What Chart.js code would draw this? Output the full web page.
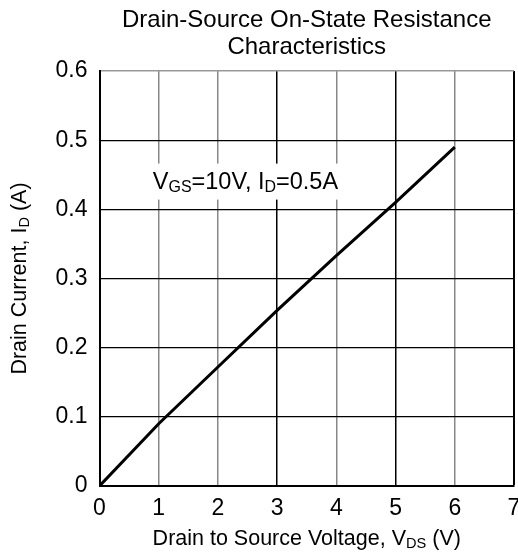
<!DOCTYPE html>
<html><head><meta charset="utf-8">
<script src="https://cdn.jsdelivr.net/npm/chart.js@4.4.1/dist/chart.umd.min.js"></script>
<style>html,body{margin:0;padding:0;background:#fff}#w{width:518px;height:555px}</style>
</head><body><div id="w"><canvas id="c"></canvas></div>
<script>
const vds = [0, 1, 2, 3, 4, 5, 6];
const id = [0, 0.09, 0.172, 0.254, 0.333, 0.41, 0.49];
const xTicks = [0, 1, 2, 3, 4, 5, 6, 7];
const yTicks = [0, 0.1, 0.2, 0.3, 0.4, 0.5, 0.6];
const titleLines = ["Drain-Source On-State Resistance", "Characteristics"];
const FONT = "'Liberation Sans', Arial, sans-serif";
const SUB = 0.68;

function measure(ctx, parts, size) {
  let t = 0;
  parts.forEach(p => { ctx.font = (p[1] ? size * SUB : size) + "px " + FONT; t += ctx.measureText(p[0]).width; });
  return t;
}
function drawSub(ctx, parts, x, y, size, align) {
  const total = measure(ctx, parts, size);
  let cx = align === 'center' ? x - total / 2 : x;
  parts.forEach(p => {
    ctx.font = (p[1] ? size * SUB : size) + "px " + FONT;
    ctx.fillText(p[0], cx, p[1] ? y + size * 0.13 : y);
    cx += ctx.measureText(p[0]).width;
  });
  return total;
}

const textPlugin = {
  id: 'texts',
  afterDraw(chart) {
    const ctx = chart.ctx, ca = chart.chartArea;
    const xs = chart.scales.x, ys = chart.scales.y;
    ctx.save();
    ctx.fillStyle = '#000';
    ctx.textBaseline = 'alphabetic';
    ctx.textAlign = 'center';
    ctx.font = "24px " + FONT;
    const cx = (ca.left + ca.right) / 2;
    ctx.fillText(titleLines[0], cx, 27);
    ctx.fillText(titleLines[1], cx, 54);
    ctx.textAlign = 'left';
    drawSub(ctx, [["Drain to Source Voltage, V", false], ["DS", true], [" (V)", false]], cx, 545, 21.5, 'center');
    ctx.save();
    ctx.translate(26, (ca.top + ca.bottom) / 2);
    ctx.rotate(-Math.PI / 2);
    drawSub(ctx, [["Drain Current, I", false], ["D", true], [" (A)", false]], 0, 0, 21.5, 'center');
    ctx.restore();
    // annotation
    const ax = xs.getPixelForValue(0.9), ay = ys.getPixelForValue(0.43);
    const parts = [["V", false], ["GS", true], ["=10V, I", false], ["D", true], ["=0.5A", false]];
    const tw = measure(ctx, parts, 23.5);
    ctx.fillStyle = '#fff';
    ctx.fillRect(ax - 4, ay - 25, tw + 8, 36);
    ctx.fillStyle = '#000';
    drawSub(ctx, parts, ax, ay, 23.5, 'left');
    ctx.restore();
  }
};

new Chart(document.getElementById('c'), {
  type: 'line',
  data: {
    datasets: [{
      data: vds.map((v, i) => ({ x: v, y: id[i] })),
      borderColor: '#000', borderWidth: 3, pointRadius: 0, tension: 0, fill: false
    }]
  },
  options: {
    responsive: true, maintainAspectRatio: false, animation: false,
    layout: { padding: { top: 71, right: 4, left: 0, bottom: 0 } },
    plugins: { legend: { display: false }, tooltip: { enabled: false }, title: { display: false } },
    scales: {
      x: {
        type: 'linear', min: 0, max: 7,
        afterBuildTicks: s => { s.ticks = xTicks.map(v => ({ value: v })); },
        afterFit: s => { s.height = 69; s.paddingLeft = 0; s.paddingRight = 0; },
        ticks: { color: '#000', font: { size: 23, family: FONT }, padding: 9, callback: v => String(v) },
        grid: {
          drawTicks: false,
          color: c => (c.tick && (c.tick.value === 3 || c.tick.value === 5 || c.tick.value === 7)) ? '#000' : '#888',
          lineWidth: c => (c.tick && c.tick.value === 7) ? 2 : 1.5
        },
        border: { display: true, color: '#000', width: 2 }
      },
      y: {
        type: 'linear', min: 0, max: 0.6,
        afterBuildTicks: s => { s.ticks = yTicks.map(v => ({ value: v })); },
        afterFit: s => { s.width = 99.5; s.paddingTop = 0; s.paddingBottom = 0; },
        ticks: { color: '#000', font: { size: 23, family: FONT }, padding: 12, callback: v => String(Math.round(v * 10) / 10) },
        grid: {
          drawTicks: false,
          color: c => (c.tick && c.tick.value === 0.6) ? '#999' : '#000',
          lineWidth: c => (c.tick && c.tick.value === 0.6) ? 1.5 : 1.2
        },
        border: { display: true, color: '#000', width: 2 }
      }
    }
  },
  plugins: [textPlugin]
});
</script></body></html>
